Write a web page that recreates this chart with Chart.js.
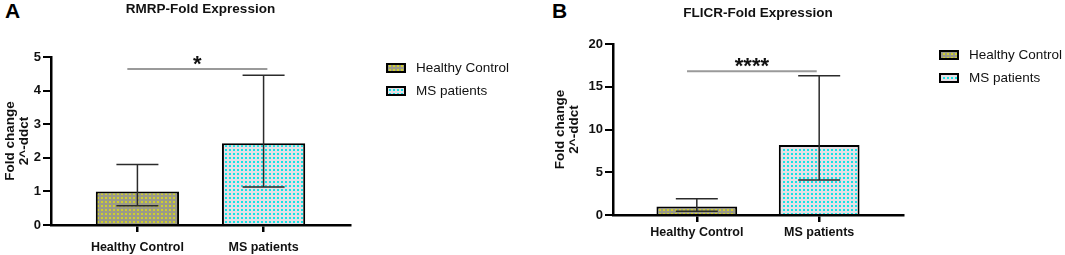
<!DOCTYPE html>
<html>
<head>
<meta charset="utf-8">
<script src="https://cdn.jsdelivr.net/npm/chart.js@4.4.1/dist/chart.umd.min.js"></script>
<style>
body { margin: 0; background: #fff; width: 1065px; height: 255px; overflow: hidden; position: relative; font-family: "Liberation Sans", Arial, sans-serif; }
.panel { position: absolute; top: 0; height: 255px; }
#panelA { left: 0; width: 540px; }
#panelB { left: 550px; width: 515px; }
.letter { position: absolute; top: 0; font-size: 21px; line-height: 21px; font-weight: bold; color: #000; }
</style>
</head>
<body>
<div class="letter" style="left:5px">A</div>
<div class="letter" style="left:552px">B</div>
<div class="panel" id="panelA"><canvas id="GraficoRMRP"></canvas></div>
<div class="panel" id="panelB"><canvas id="GraficoFLICR"></canvas></div>
<script>
var categories = ['Healthy Control', 'MS patients'];

// RMRP (panel A)
var rmrpMean = [1.0, 2.43];
var rmrpUpper = [1.8, 4.46];
var rmrpLower = [0.57, 1.13];

// FLICR (panel B)
var flicrMean = [1.0, 8.2];
var flicrUpper = [1.9, 16.3];
var flicrLower = [0.45, 4.1];

// significance brackets: [from category, to category, height], label
var rmrpSig = [-0.08, 1.03, 4.64];
var flicrSig = [-0.08, 0.98, 16.8];
var sigLabels = ['*', '****'];

var FONT = '"Liberation Sans", Arial, sans-serif';

function makePattern(bg, dot) {
  var c = document.createElement('canvas');
  c.width = 4; c.height = 4;
  var g = c.getContext('2d');
  g.fillStyle = bg; g.fillRect(0, 0, 4, 4);
  g.fillStyle = dot; g.fillRect(1, 1, 2, 2);
  return g.createPattern(c, 'repeat');
}

function buildChart(canvasId, title, means, upper, lower, sig, sigText, yMax, yStep, s) {
  var fills = [makePattern('#9b9a88', '#cfcf2e'), makePattern('#e6e0e6', '#16e4e4')];

  var errorBars = {
    id: 'errorBars',
    afterDatasetsDraw: function(chart) {
      var ctx = chart.ctx, ys = chart.scales.y, xs = chart.scales.x;
      var bars = chart.getDatasetMeta(0).data;
      ctx.save();
      ctx.strokeStyle = '#2b2b2b';
      ctx.lineWidth = 1.5;
      bars.forEach(function(bar, i) {
        var hi = ys.getPixelForValue(upper[i]), lo = ys.getPixelForValue(lower[i]);
        ctx.beginPath();
        ctx.moveTo(bar.x, hi); ctx.lineTo(bar.x, lo);
        ctx.moveTo(bar.x - 21, hi); ctx.lineTo(bar.x + 21, hi);
        ctx.moveTo(bar.x - 21, lo); ctx.lineTo(bar.x + 21, lo);
        ctx.stroke();
      });
      // bracket + stars
      var x1 = xs.getPixelForValue(sig[0]), x2 = xs.getPixelForValue(sig[1]);
      var yb = ys.getPixelForValue(sig[2]);
      ctx.strokeStyle = '#9a9a9a';
      ctx.lineWidth = 2;
      ctx.beginPath(); ctx.moveTo(x1, yb); ctx.lineTo(x2, yb); ctx.stroke();
      ctx.fillStyle = '#111';
      ctx.font = 'bold 22px ' + FONT;
      ctx.textAlign = 'center';
      ctx.textBaseline = 'alphabetic';
      ctx.fillText(sigText, (x1 + x2) / 2, yb + 2);
      ctx.restore();
    }
  };

  var legendBoxes = {
    id: 'legendBoxes',
    afterDraw: function(chart) {
      var ctx = chart.ctx, a = chart.chartArea;
      var ds = chart.data.datasets[0];
      ctx.save();
      ctx.font = '13.5px ' + FONT;
      ctx.textBaseline = 'middle';
      categories.forEach(function(c, i) {
        var x = a.right + 37, y = a.top + 11 + i * 23;
        ctx.fillStyle = ds.backgroundColor[i];
        ctx.fillRect(x, y - 4, 18, 8);
        ctx.strokeStyle = '#000'; ctx.lineWidth = 2;
        ctx.strokeRect(x, y - 4, 18, 8);
        ctx.fillStyle = '#111';
        ctx.fillText(c, x + 29, y);
      });
      ctx.restore();
    }
  };

  var ctx = document.getElementById(canvasId).getContext('2d');
  return new Chart(ctx, {
    type: 'bar',
    data: {
      datasets: [{
        label: title,
        data: categories.map(function(c, i) { return {x: i, y: means[i]}; }),
        backgroundColor: fills,
        borderColor: '#000',
        borderWidth: 2,
        barPercentage: 0.66,
        categoryPercentage: 1
      }]
    },
    options: {
      responsive: true,
      maintainAspectRatio: false,
      animation: false,
      layout: { padding: { left: 0, right: s.padRight, top: 0, bottom: s.padBottom } },
      plugins: {
        legend: { display: false },
        tooltip: { enabled: false },
        title: {
          display: true, text: title, fullSize: false, color: '#111',
          font: { family: FONT, size: 13.5, weight: 'bold' },
          padding: { top: s.titleTop, bottom: s.titleBottom }
        }
      },
      scales: {
        x: {
          type: 'linear', min: -0.685, max: 1.685, offset: false,
          afterBuildTicks: function(sc) { sc.ticks = categories.map(function(c, i) { return {value: i}; }); },
          afterFit: function(sc) { sc.height = 30; },
          ticks: {
            callback: function(v) { return categories[v]; },
            color: '#111', padding: s.xPad, autoSkip: false, maxRotation: 0,
            font: { family: FONT, size: 12.5, weight: 'bold' }
          },
          grid: { offset: false, drawOnChartArea: false, tickLength: 7, color: '#000', lineWidth: 2.5 },
          border: { color: '#000', width: 2.5 }
        },
        y: {
          min: 0, max: yMax,
          afterFit: function(sc) { sc.width = s.yWidth; },
          ticks: { stepSize: yStep, color: '#111', padding: 2, font: { family: FONT, size: 13, weight: 'bold' } },
          grid: { drawOnChartArea: false, tickLength: 8, color: '#000', lineWidth: 2 },
          border: { color: '#000', width: 2.5 },
          title: {
            display: true, text: ['Fold change', '2^-ddct'], color: '#111',
            font: { family: FONT, size: 13.5, weight: 'bold', lineHeight: 1.05 },
            padding: { top: 3, bottom: 0 }
          }
        }
      }
    },
    plugins: [errorBars, legendBoxes]
  });
}

var GraficoRMRP = buildChart('GraficoRMRP', 'RMRP-Fold Expression', rmrpMean, rmrpUpper, rmrpLower, rmrpSig, sigLabels[0], 5, 1,
  { padRight: 190, padBottom: 0, titleTop: 1.5, titleBottom: 39.3, xPad: 8, yWidth: 51 });
var GraficoFLICR = buildChart('GraficoFLICR', 'FLICR-Fold Expression', flicrMean, flicrUpper, flicrLower, flicrSig, sigLabels[1], 20, 5,
  { padRight: 162, padBottom: 10, titleTop: 5, titleBottom: 22.8, xPad: 3, yWidth: 63 });
</script>
</body>
</html>
